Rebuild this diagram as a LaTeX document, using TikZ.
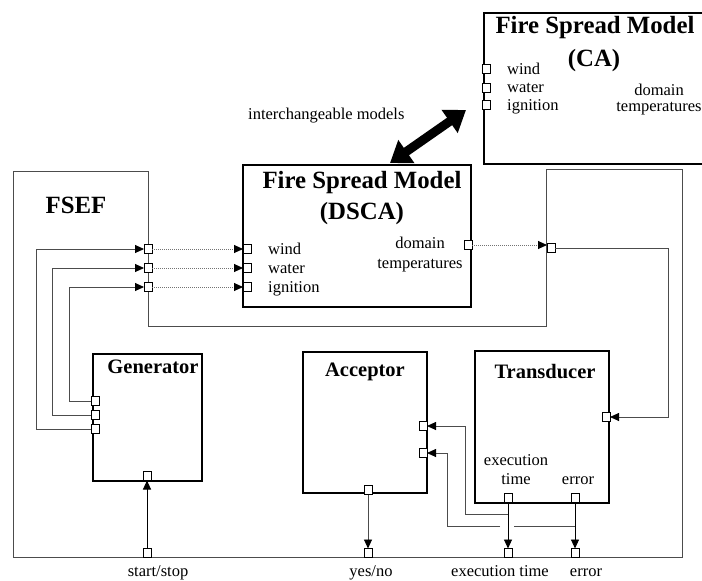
\documentclass[tikz,border=0pt]{standalone}
\usepackage{fontspec}
\setmainfont{Liberation Serif}
\usetikzlibrary{arrows.meta}
\begin{document}
\begin{tikzpicture}[x=1pt,y=-1pt,
  box/.style={draw=black,line width=1.1pt,inner sep=0pt,outer sep=0pt},
  port/.style={draw=black,fill=white,line width=0.9pt,minimum width=8pt,minimum height=9pt,inner sep=0pt,outer sep=0pt},
  wire/.style={draw=black!70,line width=0.9pt},
  arr/.style={-{Triangle[length=9pt,width=8pt,color=black]}},
  dots/.style={draw=black!55,line width=0.9pt,dash pattern=on 1pt off 1pt},
  lbl/.style={font=\fontsize{16.5}{20}\selectfont,inner sep=0pt},
  big/.style={font=\fontsize{24.8}{30}\selectfont\bfseries,inner sep=0pt},
  mid/.style={font=\fontsize{20.5}{24}\selectfont\bfseries,inner sep=0pt}]
\useasboundingbox (0,0) rectangle (702,581);
\fill[white] (0,0) rectangle (702,581);

% FSEF frame
\draw[wire] (13,171) -- (148,171) -- (148,326) -- (546,326) -- (546,169) -- (682,169) -- (682,557) -- (13,557) -- cycle;

% boxes
\node[box,minimum width=222pt,minimum height=151pt,anchor=north west] (ca) at (484,13) {};
\node[box,minimum width=228pt,minimum height=142pt,anchor=north west] (dsca) at (243,165) {};
\node[box,minimum width=109pt,minimum height=127pt,anchor=north west] (gen) at (93,354) {};
\node[box,minimum width=124pt,minimum height=141pt,anchor=north west] (acc) at (303,352) {};
\node[box,minimum width=134pt,minimum height=152pt,anchor=north west] (tra) at (475,351) {};

% titles
\node[big,anchor=base] (fsef) at (76,213) {FSEF};
\node[big,anchor=base] (t1) at (362,188) {Fire Spread Model};
\node[big,anchor=base] (t2) at (362,219) {(DSCA)};
\node[big,anchor=base] (t3) at (595,33) {Fire Spread Model};
\node[big,anchor=base] (t4) at (594,66) {(CA)};
\node[mid,anchor=base] (tg) at (153,373) {Generator};
\node[mid,anchor=base] (tac) at (365,376) {Acceptor};
\node[mid,anchor=base] (ttr) at (545,378) {Transducer};

% small labels
\node[lbl,anchor=base west] (im) at (248,119) {interchangeable models};
\node[lbl,anchor=base west] (dw) at (268,254.5) {wind};
\node[lbl,anchor=base west] (dwa) at (268,273.5) {water};
\node[lbl,anchor=base west] (dig) at (268,292.5) {ignition};
\node[lbl,anchor=base] (dd) at (420,248) {domain};
\node[lbl,anchor=base] (dt) at (420,268) {temperatures};
\node[lbl,anchor=base west] (cw) at (507,74) {wind};
\node[lbl,anchor=base west] (cwa) at (507,92.5) {water};
\node[lbl,anchor=base west] (cig) at (507,110.5) {ignition};
\node[lbl,anchor=base] (cd) at (659,95) {domain};
\node[lbl,anchor=base] (ct) at (659,111) {temperatures};
\node[lbl,anchor=base] (le) at (516,465) {execution};
\node[lbl,anchor=base] (lt) at (516,484) {time};
\node[lbl,anchor=base] (ler) at (578,484) {error};
\node[lbl,anchor=base] (bl1) at (158,576) {start/stop};
\node[lbl,anchor=base] (bl2) at (371,576) {yes/no};
\node[lbl,anchor=base] (bl3) at (500,576) {execution time};
\node[lbl,anchor=base] (bl4) at (586,576) {error};

% junction coordinates
\coordinate (j1) at (508,514);
\coordinate (j2) at (575,526);
\coordinate (j2b) at (514,526);
\coordinate (j3) at (500,526);
\coordinate (ba) at (390,163);
\coordinate (bb) at (466,110);

% ports
\node[port] (f1) at (148,249) {};
\node[port] (f2) at (148,268) {};
\node[port] (f3) at (148,287) {};
\node[port] (d1) at (247,249) {};
\node[port] (d2) at (247,268) {};
\node[port] (d3) at (247,287) {};
\node[port] (dout) at (468,245) {};
\node[port] (fr) at (551,248) {};
\node[port] (tr) at (606,417) {};
\node[port] (te) at (508,498) {};
\node[port] (terr) at (575,498) {};
\node[port] (a1) at (423,426) {};
\node[port] (a2) at (423,453) {};
\node[port] (abot) at (368,490) {};
\node[port] (g1) at (95,401) {};
\node[port] (g2) at (95,415) {};
\node[port] (g3) at (95,429) {};
\node[port] (gbot) at (147,476) {};
\node[port] (bss) at (147,553) {};
\node[port] (byn) at (368,553) {};
\node[port] (bet) at (508,553) {};
\node[port] (ber) at (575,553) {};
\node[port] (c1) at (486,69) {};
\node[port] (c2) at (486,88) {};
\node[port] (c3) at (486,105) {};

% feedback from generator
\draw[wire,arr] (g1.west) -- ++(-22,0) |- (f3.west);
\draw[wire,arr] (g2.west) -- ++(-39,0) |- (f2.west);
\draw[wire,arr] (g3.west) -- ++(-55,0) |- (f1.west);

% dotted couplings
\draw[dots,arr] (f1.east) -- (d1.west);
\draw[dots,arr] (f2.east) -- (d2.west);
\draw[dots,arr] (f3.east) -- (d3.west);
\draw[dots,arr] (dout.east) -- (dout.east -| fr.west);

% to transducer
\draw[wire,arr] (fr.east) -- ++(113,0) |- (tr.east);

% transducer outputs
\draw[black,line width=0.9pt,arr] (te.south) -- (bet.north);
\draw[black,line width=0.9pt,arr] (terr.south) -- (ber.north);
\draw[wire,arr] (j1) -- ++(-43,0) |- (a1.east);
\draw[wire] (j2) -- (j2b);
\draw[wire,arr] (j3) -- ++(-53,0) |- (a2.east);

% acceptor output
\draw[wire,arr] (abot.south) -- (byn.north);
% start/stop
\draw[black,line width=0.9pt,arr] (bss.north) -- (gbot.south);

% interchangeable arrow
\draw[line width=9pt,{Triangle[length=20pt,width=27pt]}-{Triangle[length=20pt,width=27pt]}] (ba) -- (bb);
\end{tikzpicture}
\end{document}
